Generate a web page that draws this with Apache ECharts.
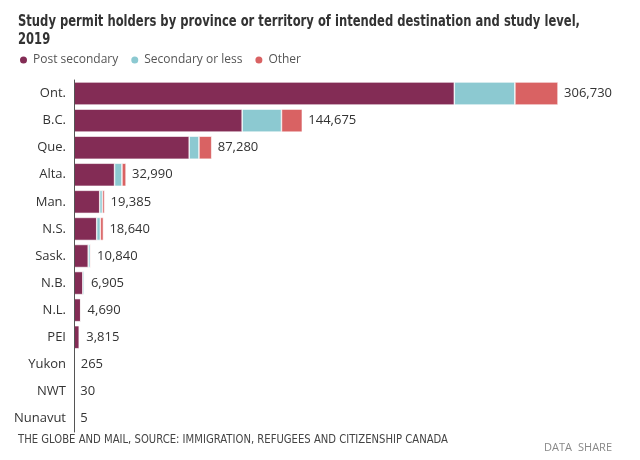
<!DOCTYPE html>
<html>
<head>
<meta charset="utf-8">
<script src="https://cdn.jsdelivr.net/npm/echarts@6/dist/echarts.min.js"></script>
<style>
  html, body { margin: 0; padding: 0; background: #fff; }
  #chart { width: 640px; height: 460px; }
</style>
</head>
<body>
<div id="chart"></div>
<script>
  // study permit holders, 2019
  var provinces = ['Ont.', 'B.C.', 'Que.', 'Alta.', 'Man.', 'N.S.', 'Sask.', 'N.B.', 'N.L.', 'PEI', 'Yukon', 'NWT', 'Nunavut'];
  var postSecondary = [241000, 106560, 73000, 25700, 16300, 14400, 9000, 5600, 4260, 3300, 150, 0, 0];
  var secondaryOrLess = [38400, 24930, 6200, 4700, 1700, 2300, 1300, 900, 330, 380, 100, 30, 5];
  var other = [27330, 13185, 8080, 2590, 1385, 1940, 540, 405, 100, 135, 15, 0, 0];
  var totals = [306730, 144675, 87280, 32990, 19385, 18640, 10840, 6905, 4690, 3815, 265, 30, 5];

  var titleLine1 = 'Study permit holders by province or territory of intended destination and study level,';
  var titleLine2 = '2019';
  var sourceText = 'THE GLOBE AND MAIL, SOURCE: IMMIGRATION, REFUGEES AND CITIZENSHIP CANADA';

  var font = "'Open Sans', sans-serif";
  var titleFont = "'DejaVu Sans', sans-serif";

  function fmt(n) {
    return n.toString().replace(/\B(?=(\d{3})+(?!\d))/g, ',');
  }

  // the original uses a condensed face, so squeeze the long texts to fit
  var measureCtx = document.createElement('canvas').getContext('2d');
  function squeeze(text, cssFont, target) {
    measureCtx.font = cssFont;
    return Math.min(1, target / measureCtx.measureText(text).width);
  }
  var titleScale = squeeze(titleLine1, "bold 15px 'DejaVu Sans'", 562);
  var sourceScale = squeeze(sourceText, "12px 'DejaVu Sans'", 430);

  var chart = echarts.init(document.getElementById('chart'));

  chart.setOption({
    backgroundColor: '#fff',
    animation: false,
    textStyle: { fontFamily: font },
    legend: {
      left: 13,
      top: 49,
      icon: 'circle',
      itemWidth: 9,
      itemHeight: 9,
      itemGap: 11,
      textStyle: { fontFamily: font, fontSize: 12, color: '#555' },
      data: ['Post secondary', 'Secondary or less', 'Other'],
    },
    grid: { left: 74, top: 80, right: 20, height: 352 },
    xAxis: {
      type: 'value',
      min: 0,
      max: 346000,
      show: false,
    },
    yAxis: {
      type: 'category',
      inverse: true,
      z: 5,
      data: provinces,
      axisLine: { show: true, lineStyle: { color: '#555', width: 1 } },
      axisTick: { show: false },
      axisLabel: { fontFamily: font, fontSize: 13, color: '#333', margin: 8 },
    },
    color: ['#832c55', '#8cc9d1', '#d96263'],
    series: [
      {
        name: 'Post secondary',
        type: 'bar',
        stack: 'total',
        barCategoryGap: '15%',
        itemStyle: { borderColor: '#fff', borderWidth: 0.6 },
        data: postSecondary,
      },
      {
        name: 'Secondary or less',
        type: 'bar',
        stack: 'total',
        itemStyle: { borderColor: '#fff', borderWidth: 0.6 },
        data: secondaryOrLess,
      },
      {
        name: 'Other',
        type: 'bar',
        stack: 'total',
        itemStyle: { borderColor: '#fff', borderWidth: 0.6 },
        label: {
          show: true,
          position: 'right',
          distance: 6,
          fontFamily: font,
          fontSize: 13,
          color: '#333',
          formatter: function (p) {
            return fmt(totals[p.dataIndex]);
          },
        },
        data: other,
      },
    ],
    graphic: [
      {
        type: 'text',
        x: 18,
        y: 13,
        scaleX: titleScale,
        style: {
          text: titleLine1 + '\n' + titleLine2,
          fontFamily: titleFont,
          fontSize: 15,
          fontWeight: 'bold',
          lineHeight: 18,
          fill: '#333',
          verticalAlign: 'top',
        },
      },
      {
        type: 'text',
        x: 18,
        y: 434,
        scaleX: sourceScale,
        style: {
          text: sourceText,
          fontFamily: titleFont,
          fontSize: 12,
          fill: '#444',
          verticalAlign: 'top',
        },
      },
      {
        type: 'text',
        left: 544,
        top: 442,
        style: { text: 'DATA', fontFamily: font, fontSize: 11, fill: '#888' },
      },
      {
        type: 'text',
        left: 578,
        top: 442,
        style: { text: 'SHARE', fontFamily: font, fontSize: 11, fill: '#888' },
      },
    ],
  });
</script>
</body>
</html>
